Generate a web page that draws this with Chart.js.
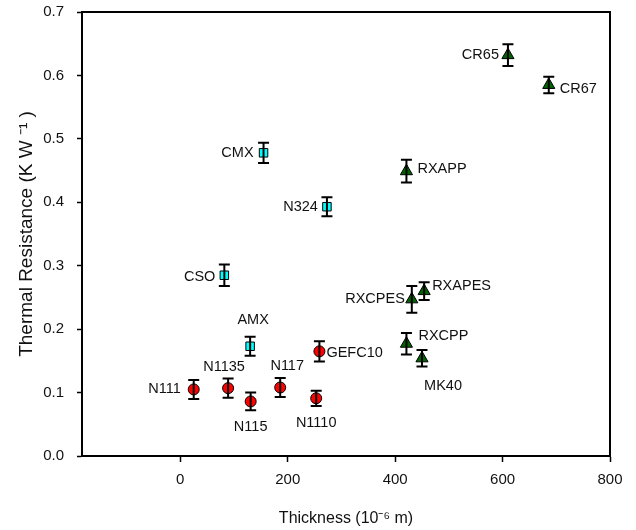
<!DOCTYPE html>
<html>
<head>
<meta charset="utf-8">
<script src="https://cdn.jsdelivr.net/npm/chart.js@4/dist/chart.umd.min.js"></script>
<style>
  html, body { margin: 0; padding: 0; background: #fff; }
  #wrap { width: 636px; height: 530px; }
</style>
</head>
<body>
<div id="wrap"><canvas id="chart1"></canvas></div>
<script>
// DATA

// circles (red)
const circleNames = ["N111", "N1135", "N115", "N117", "N1110", "GEFC10"];
const circleX = [25, 89, 131, 186, 253, 259];
const circleY = [0.105, 0.107, 0.086, 0.108, 0.091, 0.165];
const circleErr = [0.015, 0.015, 0.014, 0.015, 0.012, 0.016];

// squares (cyan)
const squareNames = ["CSO", "AMX", "CMX", "N324"];
const squareX = [82, 130, 155, 273];
const squareY = [0.285, 0.173, 0.478, 0.393];
const squareErr = [0.017, 0.015, 0.016, 0.015];

// triangles (green)
const triNames = ["CR65", "CR67", "RXAPP", "RXCPES", "RXAPES", "RXCPP", "MK40"];
const triX = [610, 686, 421, 431, 454, 421, 450];
const triY = [0.632, 0.585, 0.449, 0.247, 0.26, 0.177, 0.154];
const triErr = [0.017, 0.013, 0.018, 0.021, 0.014, 0.017, 0.013];

const xTicks = [0, 200, 400, 600, 800];
const yTicks = [0, 0.1, 0.2, 0.3, 0.4, 0.5, 0.6, 0.7];

// where each label sits next to its point: [dx, dy, align]
const labelPlace = {
  N111: [-13, 0, "right"], N1135: [-4, -21, "center"], N115: [0, 26, "center"],
  N117: [7, -21, "center"], N1110: [0, 25, "center"], GEFC10: [7, 2, "left"],
  CSO: [-9, 2, "right"], AMX: [3, -26, "center"], CMX: [-10, 0, "right"],
  N324: [-9, 0, "right"], CR65: [-9, 0, "right"], CR67: [11, 4, "left"],
  RXAPP: [11, -2, "left"], RXCPES: [-7, 0, "right"], RXAPES: [8, -5, "left"],
  RXCPP: [12, -8, "left"], MK40: [21, 28, "center"]
};

function makePoints(xs, ys, errs, names) {
  let pts = [];
  for (let i = 0; i < xs.length; i++) {
    pts.push({ x: xs[i], y: ys[i], err: errs[i], name: names[i] });
  }
  return pts;
}

const FONT = "'Liberation Sans', Arial, sans-serif";

// error bars, frame and point labels
const extrasPlugin = {
  id: "extras",
  afterDatasetsDraw(chart) {
    const ctx = chart.ctx;
    const xs = chart.scales.x, ys = chart.scales.y;
    ctx.save();
    ctx.strokeStyle = "#000";
    ctx.lineWidth = 2;
    chart.data.datasets.forEach(ds => {
      ds.data.forEach(p => {
        const px = xs.getPixelForValue(p.x);
        const top = ys.getPixelForValue(p.y + p.err);
        const bot = ys.getPixelForValue(p.y - p.err);
        ctx.beginPath();
        ctx.moveTo(px, top); ctx.lineTo(px, bot);
        ctx.moveTo(px - 5.5, top); ctx.lineTo(px + 5.5, top);
        ctx.moveTo(px - 5.5, bot); ctx.lineTo(px + 5.5, bot);
        ctx.stroke();
      });
    });
    ctx.restore();
  },
  afterDraw(chart) {
    const ctx = chart.ctx;
    const a = chart.chartArea;
    const xs = chart.scales.x, ys = chart.scales.y;
    ctx.save();
    ctx.strokeStyle = "#000";
    ctx.lineWidth = 2;
    ctx.strokeRect(a.left, a.top, a.right - a.left, a.bottom - a.top);
    ctx.fillStyle = "#111";
    ctx.font = "14.5px " + FONT;
    ctx.textBaseline = "middle";
    chart.data.datasets.forEach(ds => {
      ds.data.forEach(p => {
        const pl = labelPlace[p.name];
        ctx.textAlign = pl[2];
        ctx.fillText(p.name, xs.getPixelForValue(p.x) + pl[0], ys.getPixelForValue(p.y) + pl[1]);
      });
    });
    ctx.restore();
  }
};

let myChart = new Chart(document.getElementById("chart1"), {
  type: "scatter",
  data: {
    datasets: [{
      label: "circles",
      data: makePoints(circleX, circleY, circleErr, circleNames),
      pointStyle: "circle",
      pointRadius: 5.5,
      backgroundColor: "#ff0000",
      borderColor: "#000",
      borderWidth: 1
    }, {
      label: "squares",
      data: makePoints(squareX, squareY, squareErr, squareNames),
      pointStyle: "rect",
      pointRadius: 6,
      backgroundColor: "#00ffff",
      borderColor: "#000",
      borderWidth: 1
    }, {
      label: "triangles",
      data: makePoints(triX, triY, triErr, triNames),
      pointStyle: "triangle",
      pointRadius: 7,
      backgroundColor: "#006400",
      borderColor: "#000",
      borderWidth: 1
    }]
  },
  options: {
    responsive: true,
    maintainAspectRatio: false,
    animation: false,
    layout: { padding: { top: 12, right: 26, left: 0, bottom: 0 } },
    plugins: { legend: { display: false }, tooltip: { enabled: false } },
    scales: {
      x: {
        type: "linear",
        min: -183,
        max: 800,
        afterBuildTicks: s => { s.ticks = xTicks.map(v => ({ value: v })); },
        afterFit: s => { s.height = 74; s.paddingLeft = 0; s.paddingRight = 0; },
        ticks: { color: "#111", font: { family: FONT, size: 15 }, padding: 9 },
        grid: { display: true, drawOnChartArea: false, drawTicks: true, tickLength: 6, color: "#000", tickWidth: 1.5 },
        border: { display: true, color: "#000", width: 2 },
        title: { display: true, text: "Thickness (10\u207B\u2076 m)", color: "#111", font: { family: FONT, size: 16 }, padding: { top: 0, bottom: 2 } }
      },
      y: {
        type: "linear",
        min: 0,
        max: 0.7,
        afterBuildTicks: s => { s.ticks = yTicks.map(v => ({ value: v })); },
        afterFit: s => { s.width = 82; s.paddingTop = 0; s.paddingBottom = 0; },
        ticks: { color: "#111", font: { family: FONT, size: 15 }, padding: 13, callback: v => v.toFixed(1) },
        grid: { display: true, drawOnChartArea: false, drawTicks: true, tickLength: 5, color: "#000", tickWidth: 1.5 },
        border: { display: true, color: "#000", width: 2 },
        title: { display: true, text: "Thermal Resistance (K W \u207B\u00B9 )", color: "#111", font: { family: FONT, size: 19 }, padding: { top: 15, bottom: 0 } }
      }
    }
  },
  plugins: [extrasPlugin]
});
</script>
</body>
</html>
